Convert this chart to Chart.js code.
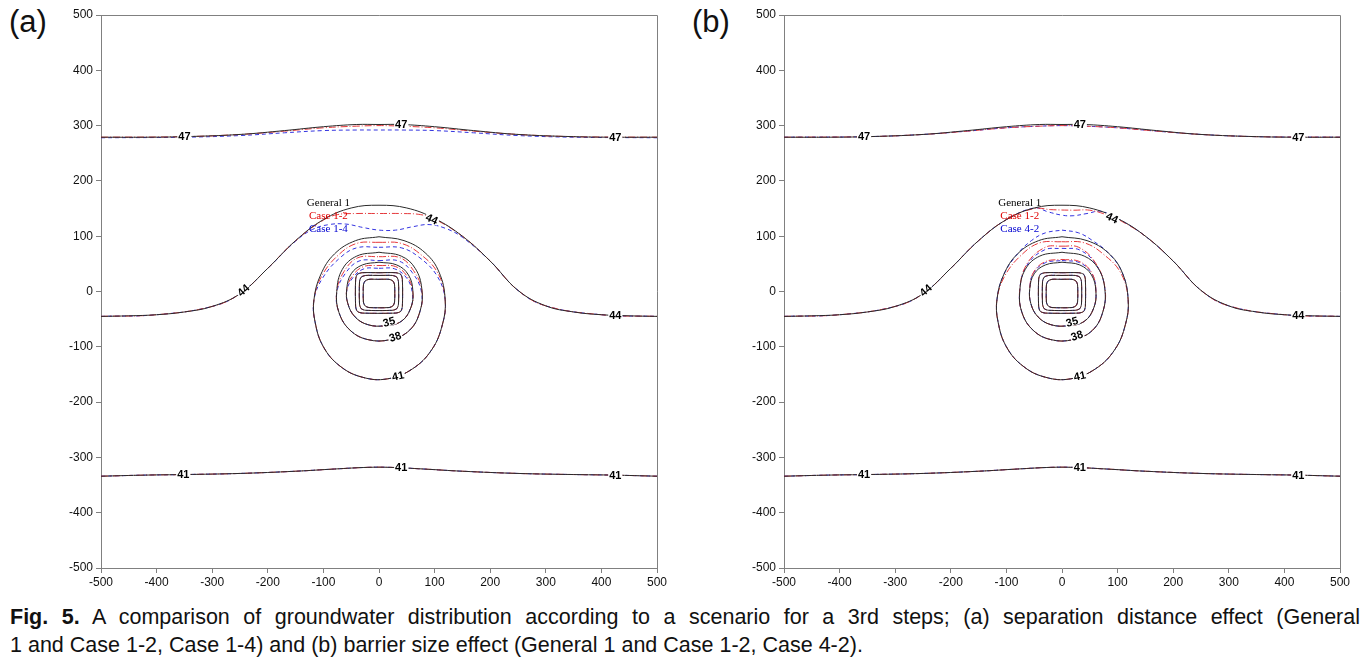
<!DOCTYPE html>
<html>
<head>
<meta charset="utf-8">
<script src="https://cdn.jsdelivr.net/npm/chart.js@4.4.1/dist/chart.umd.min.js"></script>
<style>
    body { margin: 0; background: #fff; width: 1368px; height: 667px; overflow: hidden; position: relative;
        font-family: Arial, "Liberation Sans", sans-serif; color: #111; }
    .panel { position: absolute; top: 0; width: 670px; height: 600px; }
    .tag { position: absolute; top: 6px; font-size: 31px; line-height: 1; }
    .caption { position: absolute; left: 10px; top: 603px; width: 1350px; font-size: 21.5px; line-height: 28px; }
    .line1 { text-align: justify; text-align-last: justify; }
</style>
</head>
<body>
<div class="tag" style="left:9px">(a)</div>
<div class="tag" style="left:692px">(b)</div>
<div class="panel" style="left:0"><canvas id="chartA"></canvas></div>
<div class="panel" style="left:683px"><canvas id="chartB"></canvas></div>
<div class="caption">
    <div class="line1"><b>Fig. 5.</b> A comparison of groundwater distribution according to a scenario for a 3rd steps; (a) separation distance effect (General</div>
    <div>1 and Case 1-2, Case 1-4) and (b) barrier size effect (General 1 and Case 1-2, Case 4-2).</div>
</div>
<script>
// axis range (m)
const axisMin = -500;
const axisMax = 500;
const axisStep = 100;

// contour lines, [x, y]
const general47 = [[-500,279],[-420,279],[-350,280],[-250,284],[-170,291],[-100,298],[-40,302],[0,302],[40,302],[100,298],[170,291],[250,284],[350,280],[420,279],[500,279]];
const case47Near = [[-500,279],[-350,280],[-250,284],[-170,290],[-100,296],[-40,299],[0,300],[40,299],[100,296],[170,290],[250,284],[350,280],[500,279]];
const case14A47 = [[-500,278],[-350,279],[-250,282],[-170,287],[-100,291],[-40,292],[0,292],[40,292],[100,291],[170,287],[250,282],[350,279],[500,278]];

const general44 = [[-500,-45],[-450,-44],[-400,-42],[-350,-37],[-300,-27],[-250,-4],[-200,42],[-150,92],[-100,130],[-50,151],[0,156],[50,151],[100,132],[150,100],[200,55],[250,2],[300,-26],[350,-37],[400,-42],[450,-44],[500,-45]];
const case12A44 = [[-500,-45],[-400,-42],[-300,-27],[-250,-4],[-200,42],[-150,92],[-100,129],[-75,139],[-40,141],[0,141],[40,141],[75,139],[100,131],[150,100],[200,55],[250,2],[300,-26],[400,-42],[500,-45]];
const case14A44 = [[-500,-45],[-400,-42],[-300,-27],[-250,-4],[-200,42],[-150,91],[-120,112],[-90,121],[-60,122],[-30,116],[0,111],[30,111],[60,117],[90,121],[120,114],[150,98],[200,55],[250,2],[300,-26],[400,-42],[500,-45]];
const case12B44 = [[-500,-45],[-400,-42],[-300,-27],[-250,-4],[-200,42],[-150,92],[-100,130],[-50,150],[-20,148],[20,147],[50,147],[80,139],[100,131],[150,100],[200,55],[250,2],[300,-26],[400,-42],[500,-45]];
const case42B44 = [[-500,-45],[-400,-42],[-300,-27],[-250,-4],[-200,42],[-150,92],[-100,130],[-50,151],[-25,144],[0,138],[20,137],[45,141],[70,145],[100,132],[150,100],[200,55],[250,2],[300,-26],[400,-42],[500,-45]];

const general41Low = [[-500,-334],[-420,-332],[-350,-331],[-250,-329],[-150,-325],[-80,-321],[-20,-318],[20,-318],[80,-321],[150,-325],[250,-329],[350,-331],[420,-332],[500,-334]];

const general41 = [[0,99],[45,92],[83,70],[108,35],[119,-15],[114,-60],[95,-105],[60,-140],[15,-158],[-30,-155],[-70,-135],[-100,-100],[-115,-55],[-117,-15],[-105,30],[-80,68],[-42,92],[0,99]];
const case12A41 = [[0,89],[40,87],[75,67],[106,33],[119,-15],[114,-60],[95,-105],[60,-140],[15,-158],[-30,-155],[-70,-135],[-100,-100],[-115,-55],[-117,-15],[-103,28],[-73,66],[-40,87],[0,89]];
const case14A41 = [[0,80],[40,79],[72,62],[104,29],[119,-15],[114,-60],[95,-105],[60,-140],[15,-158],[-30,-155],[-70,-135],[-100,-100],[-115,-55],[-117,-15],[-101,25],[-70,61],[-40,79],[0,80]];
const case12B41 = [[0,90],[40,88],[75,67],[106,33],[119,-15],[114,-60],[95,-105],[60,-140],[15,-158],[-30,-155],[-70,-135],[-100,-100],[-115,-55],[-117,-15],[-103,28],[-73,66],[-40,88],[0,90]];
const case42B41 = [[0,111],[30,106],[55,92],[83,70],[108,35],[119,-15],[114,-60],[95,-105],[60,-140],[15,-158],[-30,-155],[-70,-135],[-100,-100],[-115,-55],[-117,-15],[-105,30],[-80,68],[-55,92],[-30,106],[0,111]];

const general38 = [[0,71],[40,64],[65,42],[77,5],[74,-35],[55,-70],[20,-87],[-20,-87],[-52,-70],[-72,-38],[-76,0],[-66,40],[-40,64],[0,71]];
const case12A38 = [[0,63],[38,61],[62,38],[77,3],[74,-35],[55,-70],[20,-87],[-20,-87],[-52,-70],[-72,-38],[-76,0],[-63,36],[-38,61],[0,63]];
const case14A38 = [[0,56],[36,55],[60,34],[76,1],[74,-35],[55,-70],[20,-87],[-20,-87],[-52,-70],[-72,-38],[-76,-2],[-61,32],[-36,55],[0,56]];
const case12B38 = [[0,82],[30,80],[60,52],[77,8],[74,-35],[55,-70],[20,-87],[-20,-87],[-52,-70],[-72,-38],[-76,3],[-63,50],[-30,80],[0,82]];
const case42B38 = [[0,78],[32,75],[62,48],[77,6],[74,-35],[55,-70],[20,-87],[-20,-87],[-52,-70],[-72,-38],[-76,2],[-64,46],[-32,75],[0,78]];

const general35 = [[0,53],[32,48],[53,30],[61,0],[57,-30],[40,-54],[10,-62],[-20,-60],[-43,-46],[-56,-22],[-58,5],[-50,32],[-30,48],[0,53]];
const case12A35 = [[0,47],[30,45],[51,27],[61,-2],[57,-30],[40,-54],[10,-62],[-20,-60],[-43,-46],[-56,-22],[-58,3],[-48,28],[-28,45],[0,47]];
const case14A35 = [[0,42],[28,41],[50,24],[60,-3],[57,-30],[40,-54],[10,-62],[-20,-60],[-43,-46],[-56,-22],[-58,1],[-47,25],[-27,41],[0,42]];
const case12B35 = [[0,58],[32,54],[54,33],[61,1],[57,-30],[40,-54],[10,-62],[-20,-60],[-43,-46],[-56,-22],[-58,6],[-51,35],[-30,54],[0,58]];
const case42B35 = [[0,56],[32,52],[54,32],[61,1],[57,-30],[40,-54],[10,-62],[-20,-60],[-43,-46],[-56,-22],[-58,6],[-51,34],[-30,52],[0,56]];

// rounded squares around the well
const square32 = [[0,34],[30,34],[39,31],[42,22],[42,-27],[39,-36],[30,-39],[-30,-39],[-39,-36],[-42,-27],[-42,22],[-39,31],[-30,34],[0,34]];
const square29 = [[0,29],[24,29],[32,26],[35,18],[35,-23],[32,-31],[24,-34],[-24,-34],[-32,-31],[-35,-23],[-35,18],[-32,26],[-24,29],[0,29]];
const square26 = [[0,22],[18,22],[25,19],[28,12],[28,-19],[25,-26],[18,-29],[-18,-29],[-25,-26],[-28,-19],[-28,12],[-25,19],[-18,22],[0,22]];
const squares = [square32, square29, square26];

// contour value labels: text, x, y, angle
const labelsA = [['47',-350,280,0],['47',40,302,0],['47',425,279,0],['44',-244,2,-42],['44',95,131,25],['44',425,-44,0],
    ['35',18,-55,-15],['38',29,-82,-18],['41',34,-153,-12],['41',-352,-331,0],['41',40,-318,0],['41',425,-333,0]];
const labelsB = [['47',-356,280,0],['47',32,302,0],['47',425,279,0],['44',-245,2,-42],['44',90,133,25],['44',425,-44,0],
    ['35',18,-55,-15],['38',27,-80,-18],['41',32,-153,-12],['41',-356,-331,0],['41',32,-318,0],['41',425,-333,0]];

const scenarioNamesA = ['General 1', 'Case 1-2', 'Case 1-4'];
const scenarioNamesB = ['General 1', 'Case 1-2', 'Case 4-2'];

const lineStyles = [
    { color: '#2a2a2a', dash: [] },
    { color: '#e5383b', dash: [7, 2, 1, 2] },
    { color: '#3434e0', dash: [4, 3] }
];

function makeDatasets(groups) {
    const sets = [];
    groups.forEach((lines, i) => {
        lines.forEach(line => {
            sets.push({
                data: line.map(p => ({ x: p[0], y: p[1] })),
                showLine: true,
                borderColor: lineStyles[i].color,
                borderDash: lineStyles[i].dash,
                borderWidth: 1,
                pointRadius: 0,
                tension: squares.includes(line) ? 0.25 : 0.4,
                fill: false
            });
        });
    });
    return sets;
}

const framePlugin = {
    id: 'frame',
    afterDraw(chart) {
        const { ctx, chartArea: a } = chart;
        ctx.save();
        ctx.strokeStyle = '#808080';
        ctx.lineWidth = 1;
        ctx.beginPath();
        ctx.moveTo(a.left, a.top + 0.5);
        ctx.lineTo(a.right + 0.5, a.top + 0.5);
        ctx.lineTo(a.right + 0.5, a.bottom);
        ctx.stroke();
        ctx.restore();
    }
};

const labelPlugin = {
    id: 'contourLabels',
    afterDatasetsDraw(chart, args, opts) {
        const { ctx, scales } = chart;
        ctx.save();
        ctx.font = 'bold 11px Arial, "Liberation Sans", sans-serif';
        ctx.textAlign = 'center';
        ctx.textBaseline = 'middle';
        opts.items.forEach(([text, x, y, angle]) => {
            const px = scales.x.getPixelForValue(x);
            const py = scales.y.getPixelForValue(y);
            ctx.save();
            ctx.translate(px, py);
            ctx.rotate(angle * Math.PI / 180);
            const w = ctx.measureText(text).width;
            ctx.fillStyle = '#fff';
            ctx.fillRect(-w / 2 - 1, -4, w + 2, 8);
            ctx.fillStyle = '#000';
            ctx.fillText(text, 0, 0.5);
            ctx.restore();
        });
        ctx.font = '11px "Liberation Serif", "Times New Roman", serif';
        opts.names.forEach((name, i) => {
            ctx.fillStyle = ['#000', '#e00000', '#0000d0'][i];
            ctx.fillText(name, scales.x.getPixelForValue(opts.nameX), scales.y.getPixelForValue(160 - i * 23.5));
        });
        ctx.restore();
    }
};

function axisOptions(isX) {
    return {
        type: 'linear',
        min: axisMin,
        max: axisMax,
        ticks: {
            stepSize: axisStep,
            color: '#111',
            font: { size: 12, family: 'Arial, "Liberation Sans", sans-serif' },
            padding: isX ? 2 : 3,
            maxRotation: 0,
            autoSkip: false
        },
        grid: { drawOnChartArea: false, tickLength: 5, color: '#808080' },
        border: { color: '#808080' },
        afterFit(scale) {
            if (isX) scale.height = 32; else scale.width = 101;
        }
    };
}

function drawPanel(id, groups, labels, names, nameX) {
    new Chart(document.getElementById(id), {
        type: 'scatter',
        data: { datasets: makeDatasets(groups) },
        options: {
            responsive: true,
            maintainAspectRatio: false,
            animation: false,
            layout: { padding: { left: 0, right: 13, top: 15, bottom: 0 } },
            plugins: {
                legend: { display: false },
                tooltip: { enabled: false },
                contourLabels: { items: labels, names: names, nameX: nameX }
            },
            scales: { x: axisOptions(true), y: axisOptions(false) }
        },
        plugins: [framePlugin, labelPlugin]
    });
}

drawPanel('chartA', [
    [general47, general44, general41Low, general41, general38, general35, ...squares],
    [case47Near, case12A44, general41Low, case12A41, case12A38, case12A35, ...squares],
    [case14A47, case14A44, general41Low, case14A41, case14A38, case14A35, ...squares]
], labelsA, scenarioNamesA, -91);

drawPanel('chartB', [
    [general47, general44, general41Low, general41, general38, general35, ...squares],
    [case47Near, case12B44, general41Low, case12B41, case12B38, case12B35, ...squares],
    [case47Near, case42B44, general41Low, case42B41, case42B38, case42B35, ...squares]
], labelsB, scenarioNamesB, -76);
</script>
</body>
</html>
